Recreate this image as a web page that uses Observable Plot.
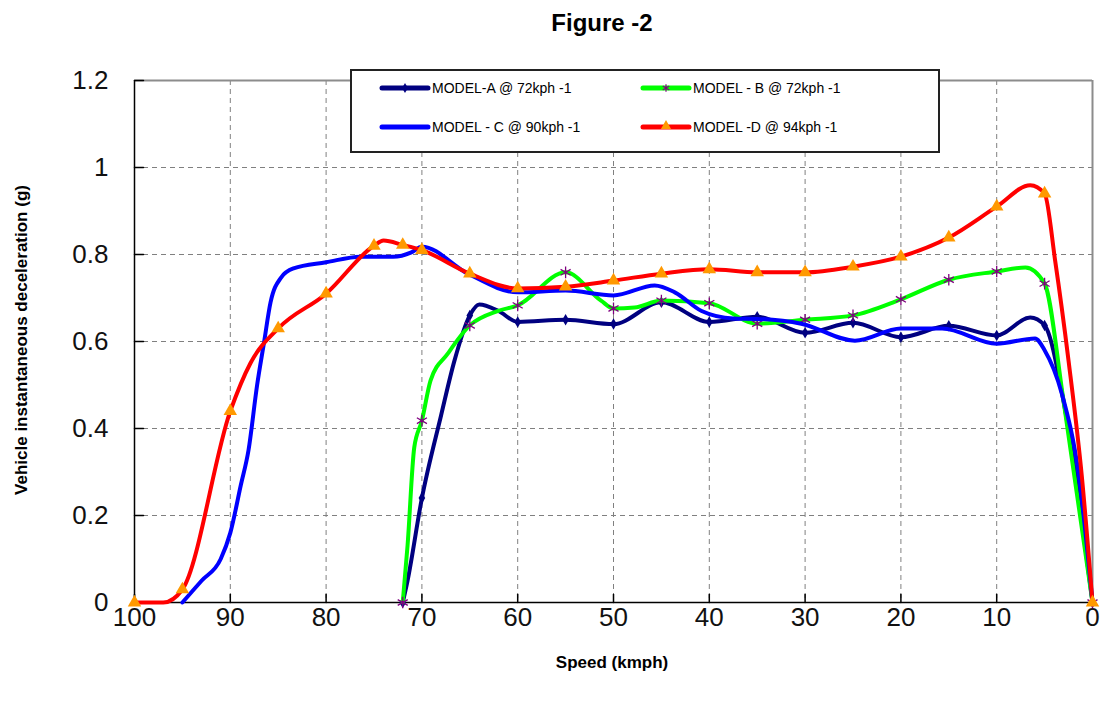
<!DOCTYPE html>
<html><head><meta charset="utf-8">
<script src="https://cdn.jsdelivr.net/npm/d3@7"></script>
<script src="https://cdn.jsdelivr.net/npm/@observablehq/plot@0.6"></script>
<style>
body{margin:0;background:#fff;font-family:'Liberation Sans',Arial,sans-serif;}
#wrap{position:relative;width:1116px;height:707px;overflow:hidden;background:#fff;}
#title{position:absolute;left:452px;width:300px;top:9px;text-align:center;font-weight:bold;font-size:24px;line-height:28px;color:#000;}
#chart{position:absolute;left:0;top:50px;}
#ylab{position:absolute;left:22px;top:340px;transform:translate(-50%,-50%) rotate(-90deg);white-space:nowrap;font-weight:bold;font-size:17px;color:#000;}
#xlab{position:absolute;left:612px;top:663px;transform:translate(-50%,-50%);white-space:nowrap;font-weight:bold;font-size:17px;color:#000;}
#legend{position:absolute;left:350px;top:69px;width:586px;height:80px;border:2px solid #222;background:#fff;}
#legend svg{position:absolute;left:0;top:0;}
</style></head>
<body><div id="wrap">
<div id="title">Figure -2</div>
<div id="chart"></div>
<div id="ylab">Vehicle instantaneous deceleration (g)</div>
<div id="xlab">Speed (kmph)</div>
<div id="legend"></div>
</div>
<script>
// ---- Data ----
const xTicks = [100, 90, 80, 70, 60, 50, 40, 30, 20, 10, 0];
const yTicks = [0, 0.2, 0.4, 0.6, 0.8, 1, 1.2];
const seriesNames = ["MODEL-A @ 72kph -1", "MODEL - B @ 72kph -1", "MODEL - C @ 90kph -1", "MODEL -D @ 94kph -1"];
const lineColors = ["#000080", "#00ff00", "#0000ff", "#ff0000"];
const markerSymbols = ["diamond", "asterisk", null, "triangle"];
const markerColors = ["#000080", "#800080", null, "#ff9900"];

// Model A (72 kph)
const speedA = [72, 71.5, 70, 68, 66.6, 65, 64, 62, 60, 55, 50, 45, 40, 35, 30, 25, 20, 15, 10, 6.5, 5, 3, 0];
const decelA = [0, 0.05, 0.24, 0.43, 0.556, 0.66, 0.685, 0.67, 0.645, 0.65, 0.64, 0.69, 0.645, 0.657, 0.62, 0.643, 0.61, 0.636, 0.614, 0.655, 0.637, 0.46, 0];
// Model B (72 kph)
const speedB = [72, 71.5, 70.8, 70, 69.1, 67.3, 65, 62.1, 60, 55, 51.3, 50, 47.8, 45, 40, 35, 30, 25, 20, 15, 10, 7, 5, 3, 0];
const decelB = [0, 0.13, 0.356, 0.418, 0.51, 0.572, 0.637, 0.67, 0.683, 0.759, 0.694, 0.676, 0.678, 0.694, 0.688, 0.641, 0.65, 0.66, 0.697, 0.742, 0.761, 0.77, 0.733, 0.46, 0];
// Model C (90 kph)
const speedC = [95, 93, 91, 90, 88.9, 88.1, 87.2, 86.5, 85.8, 84.7, 83.4, 80, 76.4, 73, 71.1, 70, 65.2, 60, 55, 50, 45.7, 43.6, 40.8, 37.5, 35, 30.4, 24.8, 20, 15.7, 10, 6, 5, 3.2, 1.4, 0];
const decelC = [0, 0.05, 0.10, 0.16, 0.27, 0.35, 0.50, 0.595, 0.69, 0.747, 0.768, 0.782, 0.795, 0.795, 0.805, 0.818, 0.756, 0.713, 0.717, 0.706, 0.729, 0.713, 0.67, 0.653, 0.652, 0.641, 0.602, 0.63, 0.63, 0.595, 0.607, 0.58, 0.48, 0.287, 0];
// Model D (94 kph)
const speedD = [100, 97, 95, 90, 87.9, 85, 80, 75, 74, 72, 70, 65, 60, 55, 50, 45, 40, 35, 30, 25, 20, 15, 10, 6.5, 5, 3.9, 2.5, 1.1, 0];
const decelD = [0, 0, 0.03, 0.44, 0.55, 0.63, 0.71, 0.82, 0.832, 0.822, 0.81, 0.756, 0.722, 0.726, 0.74, 0.756, 0.766, 0.759, 0.759, 0.772, 0.795, 0.839, 0.91, 0.959, 0.94, 0.786, 0.556, 0.287, 0];

const markerSpeedsAB = [72, 70, 65, 60, 55, 50, 45, 40, 35, 30, 25, 20, 15, 10, 5, 0];
const markerSpeedsD = [100, 95, 90, 85, 80, 75, 72, 70, 65, 60, 55, 50, 45, 40, 35, 30, 25, 20, 15, 10, 5, 0];

const table = (s, g) => s.map((v, i) => ({speed: v, g: g[i]}));
const series = [
  {data: table(speedA, decelA), markers: markerSpeedsAB},
  {data: table(speedB, decelB), markers: markerSpeedsAB},
  {data: table(speedC, decelC), markers: []},
  {data: table(speedD, decelD), markers: markerSpeedsD}
];

const tickShape = {draw(ctx, l) { ctx.moveTo(0, 0); ctx.lineTo(0, -l); }};
const tickFont = "'Liberation Sans', Arial, sans-serif";

const marks = [
  Plot.ruleX(xTicks, {x: d => d, stroke: "#808080", strokeDasharray: "5,4", strokeWidth: 1}),
  Plot.ruleY(yTicks, {y: d => d, stroke: "#808080", strokeDasharray: "5,4", strokeWidth: 1}),
  Plot.ruleY([1.2], {stroke: "#8c8c8c", strokeWidth: 2}),
  Plot.ruleX([0], {stroke: "#8c8c8c", strokeWidth: 2}),
  Plot.ruleX([100], {stroke: "#000", strokeWidth: 1.5}),
  Plot.ruleY([0], {stroke: "#000", strokeWidth: 1.5}),
  Plot.vector(xTicks, {x: d => d, y: 0, length: 8, rotate: 0, anchor: "start", shape: tickShape, stroke: "#000", strokeWidth: 1.5}),
  Plot.vector(yTicks, {x: 100, y: d => d, length: 9, rotate: 90, anchor: "start", shape: tickShape, stroke: "#000", strokeWidth: 1.5}),
  Plot.axisX(xTicks, {tickSize: 0, tickPadding: 5, fontSize: 26, fontFamily: tickFont, fill: "#111", label: null}),
  Plot.axisY(yTicks, {tickSize: 0, tickPadding: 26, fontSize: 26, fontFamily: tickFont, fill: "#111", label: null, tickFormat: d => String(d)})
];

series.forEach((s, i) => {
  marks.push(Plot.line(s.data, {x: "speed", y: "g", stroke: lineColors[i], strokeWidth: 4, curve: "monotone-x"}));
  if (markerSymbols[i]) {
    const pts = s.data.filter(d => s.markers.includes(d.speed));
    if (markerSymbols[i] === "asterisk") {
      marks.push(Plot.dot(pts, {x: "speed", y: "g", symbol: "asterisk", r: 5.5, stroke: markerColors[i], strokeWidth: 1.3}));
    } else if (markerSymbols[i] === "diamond") {
      marks.push(Plot.dot(pts, {x: "speed", y: "g", symbol: "diamond", r: 3.5, fill: markerColors[i], stroke: "none"}));
    } else {
      marks.push(Plot.dot(pts, {x: "speed", y: "g", symbol: "triangle", r: 5, fill: markerColors[i], stroke: "none"}));
    }
  }
});

const chart = Plot.plot({
  width: 1116,
  height: 657,
  marginLeft: 134,
  marginRight: 24,
  marginTop: 30,
  marginBottom: 105,
  style: {background: "#fff", overflow: "visible"},
  x: {domain: [100, 0], ticks: xTicks},
  y: {domain: [0, 1.2], ticks: yTicks},
  marks
});
document.getElementById("chart").appendChild(chart);

// ---- Legend ----
const leg = d3.select("#legend").append("svg").attr("width", 586).attr("height", 80);
const pos = [[30, 17], [291, 17], [30, 56], [291, 56]];
seriesNames.forEach((name, i) => {
  const [x0, y0] = pos[i];
  leg.append("line").attr("x1", x0).attr("x2", x0 + 46).attr("y1", y0).attr("y2", y0)
    .attr("stroke", lineColors[i]).attr("stroke-width", 5).attr("stroke-linecap", "round");
  const cx = x0 + 23;
  if (markerSymbols[i] === "diamond") {
    leg.append("path").attr("d", d3.symbol(d3.symbolDiamond, 30)()).attr("transform", `translate(${cx},${y0})`).attr("fill", markerColors[i]);
  } else if (markerSymbols[i] === "asterisk") {
    leg.append("path").attr("d", d3.symbol(d3.symbolAsterisk, 40)()).attr("transform", `translate(${cx},${y0})`).attr("fill", "none").attr("stroke", markerColors[i]).attr("stroke-width", 1.2);
  } else if (markerSymbols[i] === "triangle") {
    leg.append("path").attr("d", d3.symbol(d3.symbolTriangle, 45)()).attr("transform", `translate(${cx},${y0 - 1})`).attr("fill", markerColors[i]);
  }
  leg.append("text").attr("x", x0 + 50).attr("y", y0).attr("dy", "0.35em")
    .attr("font-size", 14).attr("font-family", "'Liberation Sans', Arial, sans-serif").attr("fill", "#000").text(name);
});
</script>
</body></html>
